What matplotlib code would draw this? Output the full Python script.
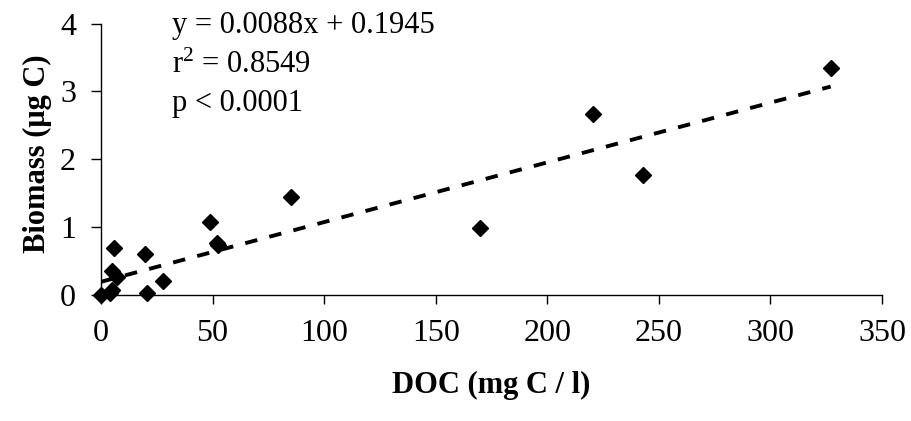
import matplotlib
matplotlib.use("Agg")
import matplotlib.pyplot as plt
import numpy as np

doc = [0, 4, 5, 5, 6, 7, 19.5, 20.5, 27.6, 49, 52, 52.5, 85, 170, 220.4, 242.8, 327]
biomass = [0.0, 0.03, 0.08, 0.36, 0.70, 0.27, 0.61, 0.03, 0.21, 1.08, 0.77, 0.73, 1.45, 0.99, 2.67, 1.77, 3.34]
slope, intercept = 0.0088, 0.1945
xticks = [0, 50, 100, 150, 200, 250, 300, 350]
yticks = [0, 1, 2, 3, 4]

plt.rcParams['font.family'] = ['Liberation Serif', 'DejaVu Serif']
plt.rcParams['mathtext.fontset'] = 'custom'
plt.rcParams['mathtext.rm'] = 'Liberation Serif'
plt.rcParams['mathtext.it'] = 'Liberation Serif:italic'
plt.rcParams['mathtext.bf'] = 'Liberation Serif:bold'

W, H = 911, 421
fig = plt.figure(figsize=(W/100, H/100), dpi=100)
x0, x1, y0, y1 = 101, 882, 295, 23.6
ax = fig.add_axes([x0/W, 1-y0/H, (x1-x0)/W, (y0-y1)/H])

xs = np.array([min(doc), max(doc)])
ax.plot(xs, slope*xs + intercept, color='black', lw=2.8, dashes=(3.2, 3.2), zorder=2)
ax.plot(doc, biomass, 'D', color='black', ms=8.5, zorder=3, clip_on=False)

ax.set_xlim(0, 350)
ax.set_ylim(0, 4)
ax.set_xticks(xticks)
ax.set_yticks(yticks)
ax.tick_params(axis='x', labelsize=23, direction='out', length=6.5, width=1, pad=11)
ax.tick_params(axis='y', labelsize=23, direction='out', length=7, width=1, pad=11)
for s in ['top', 'right']:
    ax.spines[s].set_visible(False)
for s in ['left', 'bottom']:
    ax.spines[s].set_linewidth(1)

ax.set_xlabel('DOC (mg C / l)', fontsize=22, fontweight='bold')
ax.xaxis.label.set_va('baseline')
ax.xaxis.set_label_coords(0.5, -(393-y0)/(y0-y1))
ax.set_ylabel('Biomass (μg C)', fontsize=22, fontweight='bold')
ax.yaxis.label.set_va('baseline')
ax.yaxis.set_label_coords(-(x0-45)/(x1-x0), 0.52)

tx = 172/W
ax.text(tx, 1-33/H, 'y = 0.0088x + 0.1945', transform=fig.transFigure, fontsize=22, va='baseline', ha='left')
ax.text(tx, 1-73/H, 'r$^{2}$ = 0.8549', transform=fig.transFigure, fontsize=22, va='baseline', ha='left')
ax.text(tx, 1-111/H, 'p < 0.0001', transform=fig.transFigure, fontsize=22, va='baseline', ha='left')

fig.savefig('out.png', dpi=100)
